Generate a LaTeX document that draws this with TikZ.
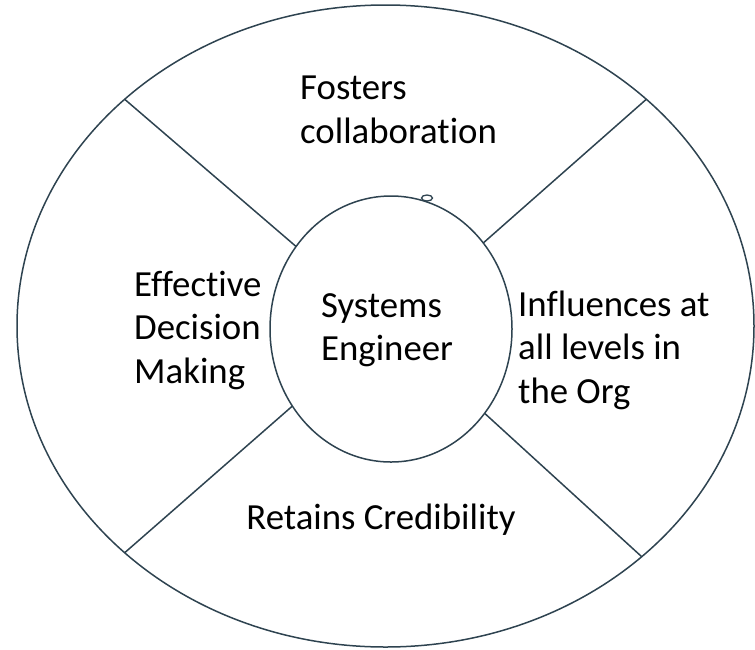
\documentclass[tikz,border=0pt]{standalone}
\usepackage{fontspec}
\setmainfont{Carlito}[Ligatures={NoCommon}]
\usetikzlibrary{shapes.geometric}
\definecolor{edge}{HTML}{2E4350}
\tikzset{
  ring/.style={draw=edge, line width=1.5pt, ellipse, inner sep=0pt, outer sep=0pt},
  sep/.style={draw=edge, line width=1.5pt},
  lbl/.style={inner sep=0pt, align=left, anchor=west, text=black, font=\fontsize{36.8}{43.5}\selectfont}
}
\begin{document}
\begin{tikzpicture}[x=1pt,y=-1pt]
\useasboundingbox (0,0) rectangle (755,649);
\node[ring, minimum width=737pt, minimum height=642pt] (outer) at (385.5,326) {};
\node[ring, minimum width=242pt, minimum height=266pt] (inner) at (391,329) {};
\draw[sep] (outer.139) -- (inner.139.5);
\draw[sep] (outer.41) -- (inner.43.7);
\draw[sep] (outer.221) -- (inner.218.5);
\draw[sep] (outer.318.8) -- (inner.318.2);
\draw[draw=edge, line width=1.3pt] (427,198) ellipse [x radius=5.5, y radius=3];
\node[lbl] (top) at (300,110) {Fosters\\collaboration};
\node[lbl] (left) at (134,330) {Effective\\Decision\\Making};
\node[lbl] (center) at (321,330) {Systems\\Engineer};
\node[lbl] (right) at (518,350) {Influences at\\all levels in\\the Org};
\node[lbl, anchor=center] (bottom) at (381,520) {Retains Credibility};
\end{tikzpicture}
\end{document}
